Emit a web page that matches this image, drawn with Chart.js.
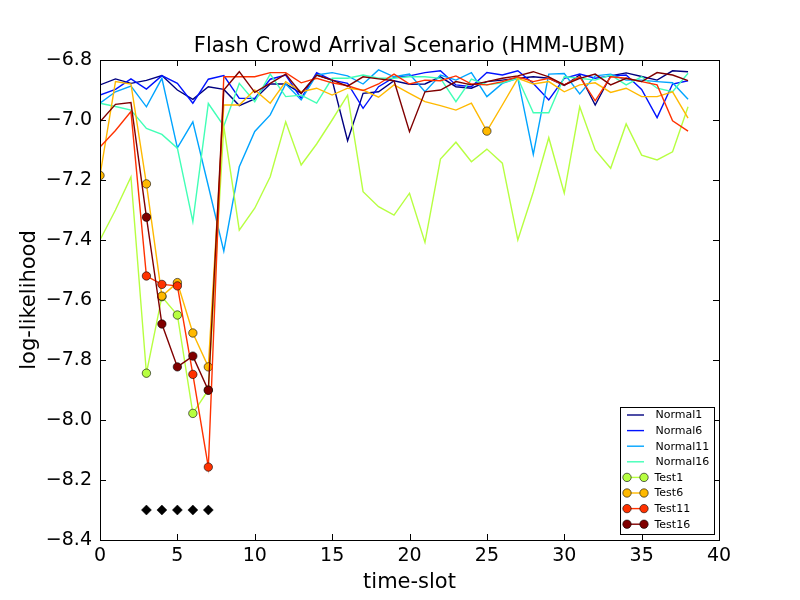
<!DOCTYPE html>
<html>
<head>
<meta charset="utf-8">
<script src="https://cdn.jsdelivr.net/npm/chart.js@4"></script>
<style>
  body { margin: 0; background: #fff; }
  canvas { display: block; }
</style>
</head>
<body>
<canvas id="chart" width="800" height="600"></canvas>
<script>
// time slots 0..38
const slots = [0,1,2,3,4,5,6,7,8,9,10,11,12,13,14,15,16,17,18,19,20,21,22,23,24,25,26,27,28,29,30,31,32,33,34,35,36,37,38];

const normal1 = [-6.883,-6.863,-6.878,-6.868,-6.852,-6.900,-6.931,-6.889,-6.898,-6.952,-6.930,-6.880,-6.880,-6.911,-6.850,-6.867,-7.069,-6.911,-6.906,-6.869,-6.881,-6.880,-6.856,-6.889,-6.894,-6.872,-6.867,-6.861,-6.856,-6.861,-6.885,-6.850,-6.950,-6.853,-6.843,-6.855,-6.867,-6.836,-6.839];
const normal6 = [-6.917,-6.898,-6.863,-6.897,-6.852,-6.878,-6.944,-6.864,-6.852,-6.928,-6.928,-6.864,-6.850,-6.928,-6.842,-6.867,-6.878,-6.961,-6.889,-6.858,-6.853,-6.842,-6.836,-6.883,-6.889,-6.842,-6.850,-6.836,-6.878,-6.933,-6.861,-6.847,-6.861,-6.853,-6.850,-6.898,-6.992,-6.880,-6.869];
const normal11 = [-6.944,-6.906,-6.887,-6.956,-6.861,-7.093,-7.006,-7.220,-7.437,-7.156,-7.038,-6.983,-6.880,-6.933,-6.850,-6.842,-6.853,-6.880,-6.833,-6.856,-6.847,-6.906,-6.850,-6.867,-6.842,-6.922,-6.878,-6.861,-7.115,-6.847,-6.845,-6.913,-6.853,-6.847,-6.867,-6.867,-6.872,-6.876,-6.931];
const normal16 = [-6.944,-6.955,-6.967,-7.028,-7.048,-7.094,-7.339,-6.945,-7.020,-6.878,-6.939,-6.847,-6.922,-6.917,-6.944,-6.861,-6.861,-6.850,-6.861,-6.861,-6.856,-6.856,-6.861,-6.939,-6.864,-6.883,-6.876,-6.861,-6.976,-6.976,-6.856,-6.861,-6.867,-6.850,-6.883,-6.856,-6.894,-6.906,-6.844];

const test1 = [-7.400,-7.300,-7.190,-7.844,-7.589,-7.650,-7.978,-7.900,-7.022,-7.367,-7.294,-7.189,-7.006,-7.150,-7.080,-7.000,-6.917,-7.239,-7.289,-7.317,-7.244,-7.408,-7.130,-7.074,-7.139,-7.097,-7.144,-7.400,-7.240,-7.059,-7.244,-6.956,-7.100,-7.161,-7.013,-7.117,-7.133,-7.106,-6.956];
const test6 = [-7.185,-6.872,-6.880,-7.213,-7.587,-7.542,-7.710,-7.823,-6.950,-6.950,-6.900,-6.944,-6.872,-6.906,-6.894,-6.917,-6.894,-6.900,-6.924,-6.883,-6.911,-6.939,-6.952,-6.967,-6.944,-7.037,-6.950,-6.861,-6.880,-6.872,-6.906,-6.883,-6.876,-6.908,-6.894,-6.922,-6.922,-6.906,-6.994];
const test11 = [-7.090,-7.035,-6.972,-7.520,-7.548,-7.553,-7.848,-8.157,-6.856,-6.856,-6.856,-6.842,-6.842,-6.876,-6.861,-6.876,-6.886,-6.902,-6.880,-6.847,-6.880,-6.867,-6.869,-6.853,-6.880,-6.883,-6.872,-6.856,-6.872,-6.861,-6.883,-6.856,-6.936,-6.856,-6.861,-6.872,-6.883,-7.003,-7.037];
const test16 = [-7.006,-6.948,-6.942,-7.324,-7.680,-7.823,-7.787,-7.901,-6.900,-6.839,-6.908,-6.878,-6.847,-6.911,-6.850,-6.867,-6.887,-6.856,-6.863,-6.869,-7.039,-6.906,-6.900,-6.872,-6.883,-6.872,-6.861,-6.853,-6.839,-6.856,-6.883,-6.861,-6.847,-6.883,-6.861,-6.872,-6.842,-6.850,-6.869];

// slots that got a marker on each test curve
const marks1 = [3,4,5,6,7];
const marks6 = [0,3,4,5,6,7,25];
const marks11 = [3,4,5,6,7];
const marks16 = [3,4,5,6,7];

// attack slots drawn as black diamonds
const attackSlots = [3,4,5,6,7];
const attackLevel = -8.3;

const xTicks = [0,5,10,15,20,25,30,35,40];
const yTicks = [-8.4,-8.2,-8.0,-7.8,-7.6,-7.4,-7.2,-7.0,-6.8];

const FONT = 'DejaVu Sans';
const minus = s => s.replace('-', '\u2212');
const pts = vals => slots.map((t, i) => ({x: t, y: vals[i]}));

const series = [
  {label: 'Normal1',  data: normal1,  color: '#000080'},
  {label: 'Normal6',  data: normal6,  color: '#0012ff'},
  {label: 'Normal11', data: normal11, color: '#00a4ff'},
  {label: 'Normal16', data: normal16, color: '#41ffb6'},
  {label: 'Test1',  data: test1,  color: '#b7ff41', marks: marks1},
  {label: 'Test6',  data: test6,  color: '#ffb900', marks: marks6},
  {label: 'Test11', data: test11, color: '#ff3200', marks: marks11},
  {label: 'Test16', data: test16, color: '#800000', marks: marks16},
];

const datasets = series.map((s, i) => ({
  label: s.label,
  data: pts(s.data),
  borderColor: s.color,
  backgroundColor: s.color,
  borderWidth: 1.4,
  tension: 0,
  pointRadius: ctx => (s.marks && s.marks.includes(ctx.dataIndex)) ? 4.2 : 0,
  pointBackgroundColor: s.color,
  pointBorderColor: 'rgba(0,0,0,0.85)',
  pointBorderWidth: 0.7,
  order: 100 - i   // later series on top, like matplotlib
}));

datasets.push({
  label: 'attack',
  data: attackSlots.map(t => ({x: t, y: attackLevel})),
  showLine: false,
  pointStyle: 'rectRot',
  pointRadius: 5,
  pointBackgroundColor: '#000',
  pointBorderColor: '#000',
  pointBorderWidth: 0.5,
  order: 0
});

// frame, inward ticks, title, axis labels and legend
const decor = {
  id: 'decor',
  afterDraw(chart) {
    const {ctx, chartArea: a, scales} = chart;
    ctx.save();
    ctx.strokeStyle = '#000';
    ctx.lineWidth = 1;
    ctx.strokeRect(a.left + 0.5, a.top + 0.5, a.right - a.left, a.bottom - a.top);

    const tl = 6;
    ctx.beginPath();
    xTicks.forEach(v => {
      const x = Math.round(scales.x.getPixelForValue(v)) + 0.5;
      ctx.moveTo(x, a.bottom); ctx.lineTo(x, a.bottom - tl);
      ctx.moveTo(x, a.top); ctx.lineTo(x, a.top + tl);
    });
    yTicks.forEach(v => {
      const y = Math.round(scales.y.getPixelForValue(v)) + 0.5;
      ctx.moveTo(a.left, y); ctx.lineTo(a.left + tl, y);
      ctx.moveTo(a.right, y); ctx.lineTo(a.right - tl, y);
    });
    ctx.stroke();

    ctx.fillStyle = '#000';
    ctx.textAlign = 'center';
    ctx.textBaseline = 'alphabetic';
    ctx.font = '21px "' + FONT + '"';
    const cx = (a.left + a.right) / 2;
    ctx.fillText('Flash Crowd Arrival Scenario (HMM-UBM)', cx, 52);
    ctx.fillText('time-slot', cx, 588);
    ctx.save();
    ctx.translate(35, (a.top + a.bottom) / 2);
    ctx.rotate(-Math.PI / 2);
    ctx.fillText('log-likelihood', 0, 0);
    ctx.restore();

    // legend
    const bx = 620.5, by = 407.5, bw = 94, bh = 127;
    ctx.fillStyle = '#fff';
    ctx.fillRect(bx, by, bw, bh);
    ctx.strokeStyle = '#000';
    ctx.lineWidth = 1;
    ctx.strokeRect(bx, by, bw, bh);
    ctx.font = '11px "' + FONT + '"';
    ctx.textAlign = 'left';
    ctx.textBaseline = 'middle';
    series.forEach((s, i) => {
      const y = 415 + i * 15.6;
      ctx.strokeStyle = s.color;
      ctx.lineWidth = 1.4;
      ctx.beginPath();
      ctx.moveTo(627, y); ctx.lineTo(644, y);
      ctx.stroke();
      if (s.marks) {
        [627, 644].forEach(mx => {
          ctx.beginPath();
          ctx.arc(mx, y, 4.2, 0, Math.PI * 2);
          ctx.fillStyle = s.color;
          ctx.fill();
          ctx.strokeStyle = 'rgba(0,0,0,0.85)';
          ctx.lineWidth = 0.7;
          ctx.stroke();
        });
      }
      ctx.fillStyle = '#000';
      ctx.fillText(s.label, s.marks ? 654.5 : 655.5, y + 0.5);
    });
    ctx.restore();
  }
};

new Chart(document.getElementById('chart'), {
  type: 'line',
  data: {datasets},
  plugins: [decor],
  options: {
    responsive: false,
    animation: false,
    layout: {padding: {top: 60, right: 81, left: 0, bottom: 0}},
    plugins: {legend: {display: false}, tooltip: {enabled: false}, title: {display: false}},
    scales: {
      x: {
        type: 'linear', min: 0, max: 40,
        afterFit: s => { s.height = 60; },
        afterBuildTicks: s => { s.ticks = xTicks.map(v => ({value: v})); },
        grid: {display: false, drawTicks: false},
        border: {display: false},
        ticks: {color: '#000', padding: 5, font: {family: FONT, size: 19}, callback: v => String(v)}
      },
      y: {
        type: 'linear', min: -8.4, max: -6.8,
        afterFit: s => { s.width = 100; },
        afterBuildTicks: s => { s.ticks = yTicks.map(v => ({value: v})); },
        grid: {display: false, drawTicks: false},
        border: {display: false},
        ticks: {color: '#000', padding: 8, font: {family: FONT, size: 19}, callback: v => minus(v.toFixed(1))}
      }
    }
  }
});
</script>
</body>
</html>
